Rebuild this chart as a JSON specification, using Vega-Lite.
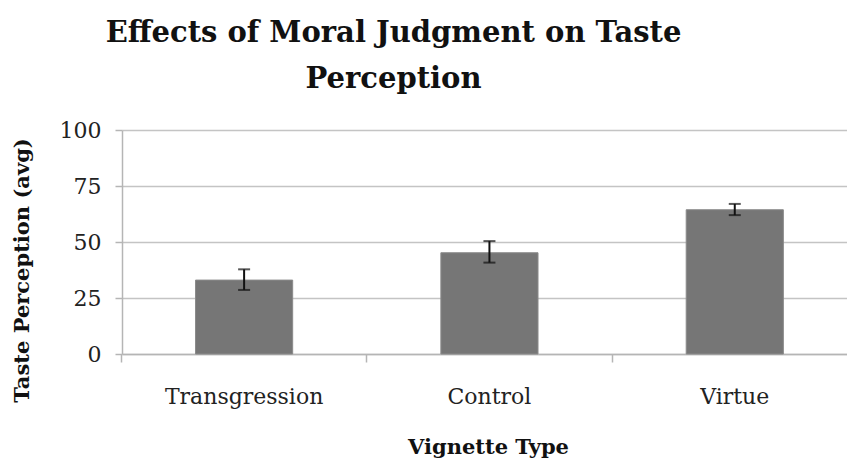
{
  "$schema": "https://vega.github.io/schema/vega-lite/v6.json",
  "width": 725,
  "height": 224,
  "autosize": {"type": "none"},
  "padding": {"left": 122, "top": 130, "right": 0, "bottom": 107},
  "background": "white",
  "config": {"view": {"stroke": null}},
  "title": {
    "text": ["Effects of Moral Judgment on Taste", "Perception"],
    "font": "DejaVu Serif",
    "fontSize": 29,
    "fontWeight": "bold",
    "color": "#111111",
    "anchor": "middle",
    "frame": "group",
    "dx": -91,
    "dy": 12,
    "lineHeight": 46,
    "offset": 37
  },
  "data": {
    "values": [
      {"type": "Transgression", "mean": 33.0, "lo": 28.6, "hi": 37.8},
      {"type": "Control", "mean": 45.2, "lo": 40.8, "hi": 50.4},
      {"type": "Virtue", "mean": 64.4, "lo": 62.0, "hi": 67.0}
    ]
  },
  "resolve": {"axis": {"x": "independent"}},
  "layer": [
    {
      "mark": {"type": "bar", "color": "#767676", "stroke": "#8a8a8a", "strokeWidth": 1},
      "encoding": {
        "x": {
          "field": "type",
          "type": "nominal",
          "sort": null,
          "scale": {"paddingInner": 0.604, "paddingOuter": 0.2796, "align": 0.536},
          "axis": {
            "orient": "bottom",
            "title": "Vignette Type",
            "labelAngle": 0,
            "ticks": false,
            "tickSize": 0,
            "domain": true,
            "domainColor": "#b5b5b5",
            "domainWidth": 1.5,
            "labelFont": "DejaVu Serif",
            "labelFontSize": 22,
            "labelColor": "#222222",
            "labelPadding": 32,
            "titleFont": "DejaVu Serif",
            "titleFontSize": 21,
            "titleFontWeight": "bold",
            "titleColor": "#111111",
            "titleX": 366,
            "titleY": 99,
            "titleBaseline": "alphabetic"
          }
        },
        "y": {
          "field": "mean",
          "type": "quantitative",
          "title": "Taste Perception (avg)",
          "scale": {"domain": [0, 100], "nice": false},
          "axis": {
            "title": "Taste Perception (avg)",
            "values": [0, 25, 50, 75, 100],
            "grid": true,
            "gridColor": "#c4c4c4",
            "gridWidth": 1.5,
            "domainColor": "#b5b5b5",
            "domainWidth": 1.5,
            "tickColor": "#b5b5b5",
            "tickSize": 7,
            "tickWidth": 1.5,
            "labelFont": "DejaVu Serif",
            "labelFontSize": 22,
            "labelColor": "#222222",
            "labelPadding": 14,
            "titleFont": "DejaVu Serif",
            "titleFontSize": 21,
            "titleFontWeight": "bold",
            "titleColor": "#111111",
            "titleAngle": -90,
            "titleX": -100,
            "titleY": 140,
            "titleAlign": "center",
            "titleBaseline": "middle"
          }
        }
      }
    },
    {
      "mark": {"type": "rule", "color": "#111111", "strokeWidth": 2},
      "encoding": {
        "x": {
          "field": "type",
          "type": "nominal",
          "sort": null,
          "axis": {
            "orient": "bottom",
            "title": null,
            "labels": false,
            "domain": false,
            "grid": false,
            "ticks": true,
            "tickSize": 8,
            "tickColor": "#b5b5b5",
            "tickWidth": 1.5,
            "bandPosition": -0.763
          }
        },
        "y": {"field": "lo", "type": "quantitative", "title": "Taste Perception (avg)"},
        "y2": {"field": "hi"}
      }
    },
    {
      "mark": {"type": "tick", "color": "#111111", "thickness": 2, "size": 12},
      "encoding": {
        "x": {"field": "type", "type": "nominal", "sort": null, "axis": null},
        "y": {"field": "lo", "type": "quantitative", "title": "Taste Perception (avg)"}
      }
    },
    {
      "mark": {"type": "tick", "color": "#111111", "thickness": 2, "size": 12},
      "encoding": {
        "x": {"field": "type", "type": "nominal", "sort": null, "axis": null},
        "y": {"field": "hi", "type": "quantitative", "title": "Taste Perception (avg)"}
      }
    }
  ]
}
